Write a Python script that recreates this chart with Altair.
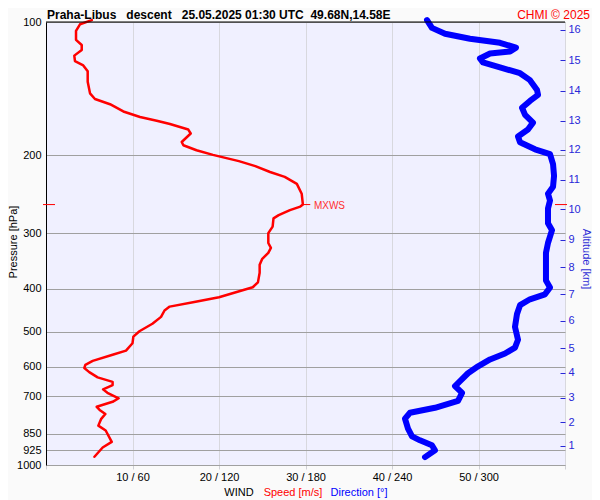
import altair as alt
import pandas as pd

FONT = "Liberation Sans"
W, H = 519, 443

# ---- data ----
p_levels = [100, 200, 300, 400, 500, 600, 700, 850, 925, 1000]
speed_ticks = [0, 10, 20, 30, 40, 50, 60]

speed_p = [99, 101.2, 104.7, 109.7, 112.7, 115.6, 119.1, 122.6, 125.3, 129.2,
           136.5, 144.9, 149.2, 153.3, 159.2, 163.9, 167.0, 169.9, 174.9, 178.5,
           186.6, 189.8, 194.8, 199.5, 206.1, 211.5, 218.1, 223.7, 229.5, 231.9,
           244.1, 258.3, 261.0, 265.9, 272.9, 277.5, 289.6, 299.7, 315.4, 323.6,
           332.0, 342.4, 353.2, 368, 387, 397, 418, 428, 439, 448,
           463, 480, 499, 513, 531, 552, 564, 582, 594, 604,
           617, 634, 649, 660, 675, 687, 707, 720, 739, 751,
           767, 788, 815, 836, 887, 913, 958]
speed_ms = [5.3, 3.93, 3.47, 3.47, 4.13, 4.13, 3.27, 3.35, 4.31, 4.82,
            4.82, 5.09, 5.66, 7.4, 8.94, 10.87, 12.8, 14.33, 16.45, 16.73,
            15.69, 15.88, 17.4, 19.3, 22.3, 24.2, 25.9, 27.6, 28.6, 29.0,
            29.56, 29.7, 29.4, 28.2, 26.9, 26.3, 26.2, 25.7, 25.7, 26.0,
            25.7, 25.0, 24.7, 24.7, 24.5, 23.9, 20.0, 17.3, 14.3, 13.7,
            13.3, 12.3, 10.8, 10.1, 10.0, 9.25, 7.7, 5.4, 4.55, 4.43,
            5.0, 5.97, 7.7, 7.7, 6.6, 7.1, 8.4, 7.7, 5.86, 6.2,
            6.86, 6.36, 6.05, 6.9, 7.6, 6.55, 5.6]

dir_p = [99, 103.1, 106.3, 109.1, 111.4, 114.3, 116.6, 117.8, 120.9, 123.4,
         126.6, 130.5, 135.3, 142.4, 146.1, 150.7, 156.2, 162.0, 168.7, 174.9,
         181.3, 186.9, 193.8, 198.8, 209.3, 222.5, 235.5, 244.1, 253.0, 263.6,
         284.6, 295.1, 315.4, 332.0, 383.4, 397.3, 411.9, 422.6, 435.7, 456.3,
         487.9, 521.4, 543.3, 560.2, 577.7, 598.8, 620.7, 646.6, 663.4, 687.7,
         716.5, 742.7, 762.1, 786.0, 827.4, 861.9, 879.7, 902.5, 926.0, 960.0]
dir_deg = [264.3, 267.7, 276.8, 294.1, 314.9, 326.0, 321.9, 308.0, 301.0, 303.1,
           314.9, 328.8, 335.7, 340.6, 341.3, 335.7, 330.2, 332.3, 337.8, 334.3,
           327.4, 328.8, 339.2, 349.6, 351.7, 352.4, 351.7, 348.2, 349.6, 348.2,
           348.2, 351.0, 348.2, 346.8, 346.8, 349.6, 346.1, 335.7, 328.8, 326.7,
           325.3, 327.4, 325.3, 318.4, 308.0, 299.7, 292.7, 287.2, 283.7, 288.6,
           285.8, 269.8, 252.5, 249.0, 251.1, 253.9, 259.4, 267.7, 269.8, 262.9]

alt_km = [16, 15, 14, 13, 12, 11, 10, 9, 8, 7, 6, 5, 4, 3, 2, 1]
alt_p = [104.2, 122.1, 142.8, 167.0, 194.3, 227.2, 265.0, 309.8, 357.7, 411.9,
         473.0, 544.6, 619.2, 705.8, 800.2, 904.6]

mxws_p = 258.3
mxws_speed = 29.7

title_text = ("Praha-Libus\u00a0\u00a0\u00a0descent\u00a0\u00a0\u00a0"
              "25.05.2025 01:30 UTC\u00a0\u00a049.68N,14.58E")

# ---- tables ----
speed_df = pd.DataFrame({"p": speed_p, "v": speed_ms, "i": list(range(len(speed_p)))})
dir_df = pd.DataFrame({"p": dir_p, "d": dir_deg, "i": list(range(len(dir_p)))})
alt_df = pd.DataFrame({"p": alt_p, "km": alt_km})
mx_df = pd.DataFrame({"p": [mxws_p], "v": [mxws_speed], "v2": [mxws_speed + 0.85], "t": ["MXWS"]})

yscale = alt.Scale(type="log", domain=[100, 1000], reverse=True, nice=False)
xs = alt.Scale(domain=[0, 60], nice=False, zero=False)
xd = alt.Scale(domain=[0, 360], nice=False, zero=False)

speed_line = alt.Chart(speed_df).mark_line(
    color="#ff0000", strokeWidth=2.5, clip=False, strokeJoin="round", strokeCap="round"
).encode(
    x=alt.X("v:Q", scale=xs, axis=alt.Axis(
        values=speed_ticks,
        labelExpr="datum.value == 0 || datum.value == 60 ? '' : datum.value + ' / ' + datum.value * 6",
        title=None, grid=True, gridColor="#d8d8de", domainColor="#a0a0a0",
        tickColor="#d0d0d6", tickSize=4, labelPadding=2, labelFontSize=11,
        labelColor="#000000", labelFont=FONT, labelFlush=False, labelOverlap=False)),
    y=alt.Y("p:Q", scale=yscale, axis=alt.Axis(
        values=p_levels, format="d", title=None, grid=True, gridColor="#a0a0a0",
        domainColor="#000000", ticks=False, labelPadding=5, labelFontSize=11,
        labelColor="#000000", labelFont=FONT, labelOverlap=False)),
    order="i:Q",
)

dir_line = alt.Chart(dir_df).mark_line(
    color="#0000ff", strokeWidth=6, clip=False, strokeJoin="round", strokeCap="round"
).encode(
    x=alt.X("d:Q", scale=xd, axis=None),
    y=alt.Y("p:Q", scale=yscale, axis=None),
    order="i:Q",
)

label_expr = ("[" + ",".join(f"'{k}'" for k in alt_km) + "][indexof(["
              + ",".join(str(p) for p in alt_p) + "], datum.value)]")

alt_axis = alt.Chart(alt_df).mark_point(opacity=0).encode(
    y=alt.Y("p:Q", scale=yscale, axis=alt.Axis(
        orient="right", values=alt_p, labelExpr=label_expr, domain=False,
        tickColor="#2828d8", tickSize=5, offset=-5, labelPadding=3, title=None,
        grid=False, labelOverlap=False, labelColor="#2828d8", labelFontSize=11,
        labelFont=FONT)),
)

mx_rule = alt.Chart(mx_df).mark_rule(color="#ff0000", strokeWidth=1).encode(
    x=alt.X("v:Q", scale=xs, axis=None), x2="v2:Q",
    y=alt.Y("p:Q", scale=yscale, axis=None),
)
mx_text = alt.Chart(mx_df).mark_text(
    align="left", baseline="middle", dx=11, dy=1, color="#ff3030", fontSize=10, font=FONT
).encode(
    x=alt.X("v:Q", scale=xs, axis=None),
    y=alt.Y("p:Q", scale=yscale, axis=None),
    text="t:N",
)
mx_left = alt.Chart(mx_df).mark_rule(color="#ff0000", strokeWidth=1).encode(
    x=alt.value(-3), x2=alt.value(9), y=alt.Y("p:Q", scale=yscale, axis=None))
mx_right = alt.Chart(mx_df).mark_rule(color="#ff0000", strokeWidth=1).encode(
    x=alt.value(509), x2=alt.value(521), y=alt.Y("p:Q", scale=yscale, axis=None))

top_border = alt.Chart(mx_df).mark_rule(color="#000000", strokeWidth=1).encode(
    x=alt.value(0), x2=alt.value(W), y=alt.value(0))


def txt(s, x, y, color="#000000", size=11, weight="normal", align="left", angle=0, baseline="alphabetic"):
    return alt.Chart(pd.DataFrame({"t": [s]})).mark_text(
        align=align, baseline=baseline, color=color, fontSize=size, fontWeight=weight,
        font=FONT, angle=angle
    ).encode(text="t:N", x=alt.value(x), y=alt.value(y))


title = txt(title_text, 1, -3, size=12, weight="bold")
chmi = txt("CHMI \u00a9 2025", 544, -3, color="#ff0000", size=12, align="right")
wind = txt("WIND", 193, 474, align="center")
spd = txt("Speed [m/s]", 247, 474, color="#ff0000", align="center")
drc = txt("Direction [\u00b0]", 313, 474, color="#0000ff", align="center")
ptitle = txt("Pressure [hPa]", -32, 220, align="center", angle=270, baseline="middle")
atitle = txt("Altitude [km]", 540, 237, color="#2f2fd6", align="center", angle=90, baseline="middle")

chart = alt.layer(
    speed_line, dir_line, alt_axis, mx_rule, mx_text, mx_left, mx_right, top_border,
    title, chmi, wind, spd, drc, ptitle, atitle,
).resolve_scale(
    x="independent", y="independent"
).properties(
    width=W, height=H, background="#fafafa",
    padding={"left": 38, "top": 14, "right": 27, "bottom": 35},
    autosize=alt.AutoSizeParams(type="none"),
).configure_view(fill="#f0f0ff", stroke="#d8d8de")

chart.save("out.html", embed_options={"renderer": "svg", "actions": False})
